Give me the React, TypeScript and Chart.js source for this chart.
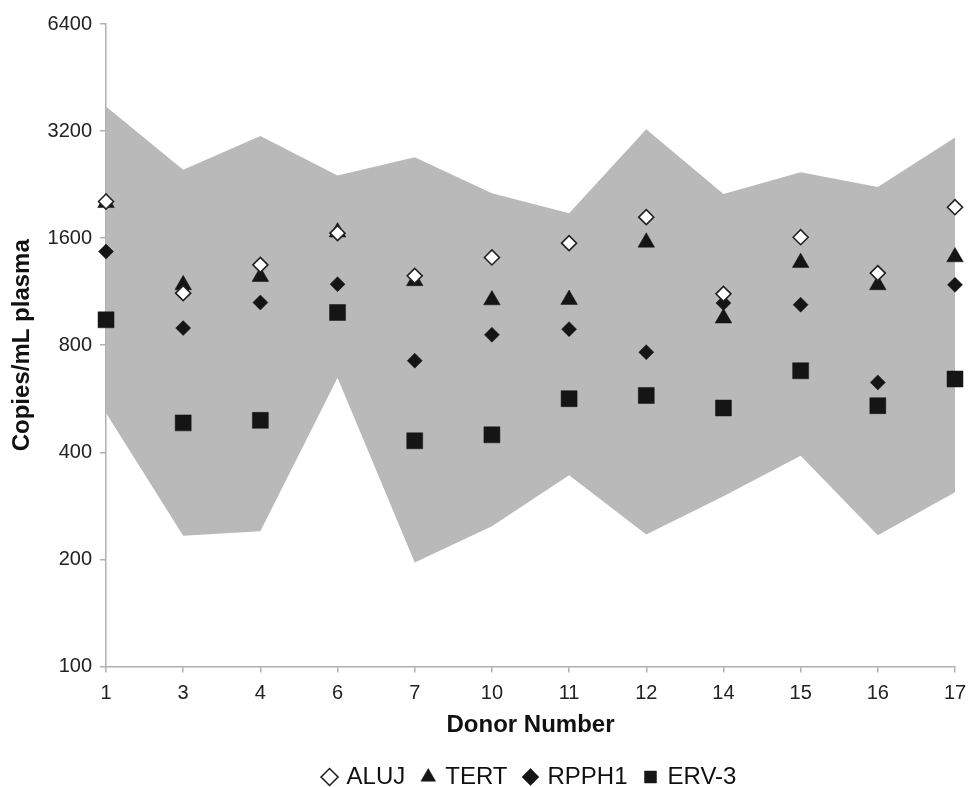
import React, { useEffect, useRef } from "react";
import { Chart, registerables } from "chart.js";
Chart.register(...registerables);

const donors = ["1", "3", "4", "6", "7", "10", "11", "12", "14", "15", "16", "17"];
const rangeUpper = [3750, 2490, 3100, 2400, 2700, 2140, 1880, 3240, 2130, 2450, 2230, 3070];
const rangeLower = [516, 233, 240, 648, 196, 248, 345, 235, 301, 391, 234, 309];
const alujValues = [2028, 1121, 1346, 1653, 1254, 1412, 1549, 1833, 1116, 1610, 1276, 1955];
const tertValues = [2012, 1182, 1247, 1663, 1213, 1072, 1075, 1557, 953, 1365, 1182, 1416];
const rpph1Values = [1467, 894, 1055, 1188, 724, 856, 888, 765, 1051, 1040, 629, 1183];
const erv3Values = [943, 484, 492, 989, 431, 448, 566, 578, 533, 678, 541, 643];
const yTicks = [100, 200, 400, 800, 1600, 3200, 6400];

const FONT = "'Liberation Sans', Arial, Helvetica, sans-serif";
const AXIS_GRAY = "#b0b0b0";
const BAND_GRAY = "#b9b9b9";
const MARK = "#151515";

export default function App() {
  const ref = useRef<HTMLCanvasElement | null>(null);

  useEffect(() => {
    if (!ref.current) return;
    const chart = new Chart(ref.current, {
      type: "line",
      data: {
        labels: donors,
        datasets: [
          {
            label: "ALUJ",
            data: alujValues,
            showLine: false,
            pointStyle: "rectRot",
            pointRadius: 7.5,
            pointBackgroundColor: "#ffffff",
            pointBorderColor: "#222222",
            pointBorderWidth: 1.6,
            backgroundColor: "#ffffff",
            borderColor: "#222222",
            order: 0,
          },
          {
            label: "TERT",
            data: tertValues,
            showLine: false,
            pointStyle: "triangle",
            pointRadius: 9.6,
            pointBackgroundColor: MARK,
            pointBorderColor: MARK,
            pointBorderWidth: 0.5,
            backgroundColor: MARK,
            borderColor: MARK,
            order: 1,
          },
          {
            label: "RPPH1",
            data: rpph1Values,
            showLine: false,
            pointStyle: "rectRot",
            pointRadius: 7.5,
            pointBackgroundColor: MARK,
            pointBorderColor: MARK,
            pointBorderWidth: 0.5,
            backgroundColor: MARK,
            borderColor: MARK,
            order: 2,
          },
          {
            label: "ERV-3",
            data: erv3Values,
            showLine: false,
            pointStyle: "rect",
            pointRadius: 11.3,
            pointBackgroundColor: MARK,
            pointBorderColor: MARK,
            pointBorderWidth: 0.5,
            backgroundColor: MARK,
            borderColor: MARK,
            order: 3,
          },
          {
            label: "upper",
            data: rangeUpper,
            pointRadius: 0,
            borderWidth: 0,
            borderColor: BAND_GRAY,
            backgroundColor: BAND_GRAY,
            fill: "+1",
            tension: 0,
            order: 10,
          },
          {
            label: "lower",
            data: rangeLower,
            pointRadius: 0,
            borderWidth: 0,
            borderColor: BAND_GRAY,
            backgroundColor: BAND_GRAY,
            fill: false,
            tension: 0,
            order: 11,
          },
        ],
      },
      options: {
        responsive: false,
        animation: false,
        layout: { padding: { top: 24, right: 13, left: 0, bottom: -12 } },
        plugins: {
          tooltip: { enabled: false },
          legend: {
            position: "bottom",
            fullSize: false,
            labels: {
              usePointStyle: true,
              boxWidth: 10,
              boxHeight: 12,
              padding: 18,
              color: "#111",
              font: { family: FONT, size: 24 },
              filter: (item) => item.text !== "upper" && item.text !== "lower",
            },
          },
        },
        scales: {
          x: {
            type: "category",
            offset: false,
            afterFit: (scale: any) => {
              scale.height = 80.5;
              scale.paddingLeft = 0;
              scale.paddingRight = 0;
            },
            border: { color: AXIS_GRAY, width: 1.5 },
            grid: { display: true, drawOnChartArea: false, color: AXIS_GRAY, lineWidth: 1.5, tickLength: 6 },
            ticks: { color: "#222", font: { family: FONT, size: 20 }, padding: 9, maxRotation: 0, autoSkip: false },
            title: {
              display: true,
              text: "Donor Number",
              color: "#111",
              font: { family: FONT, size: 24, weight: "bold" },
              padding: { top: 2, bottom: 7.6 },
            },
          },
          y: {
            type: "logarithmic",
            min: 100,
            max: 6400,
            afterBuildTicks: (scale: any) => {
              scale.ticks = yTicks.map((v) => ({ value: v }));
            },
            afterFit: (scale: any) => {
              scale.width = 106;
              scale.paddingTop = 0;
              scale.paddingBottom = 0;
            },
            border: { color: AXIS_GRAY, width: 1.5 },
            grid: { display: true, drawOnChartArea: false, color: AXIS_GRAY, lineWidth: 1.5, tickLength: 6 },
            ticks: {
              color: "#222",
              font: { family: FONT, size: 20 },
              padding: 8,
              callback: (v: any) => String(v),
            },
            title: {
              display: true,
              text: "Copies/mL plasma",
              color: "#111",
              font: { family: FONT, size: 24, weight: "bold" },
              padding: { top: 8, bottom: 0 },
            },
          },
        },
      },
    });
    return () => chart.destroy();
  }, []);

  return (
    <div style={{ position: "fixed", left: 0, top: 0, width: 968, height: 787, background: "#fff" }}>
      <canvas ref={ref} width={968} height={787} style={{ display: "block" }} />
    </div>
  );
}
